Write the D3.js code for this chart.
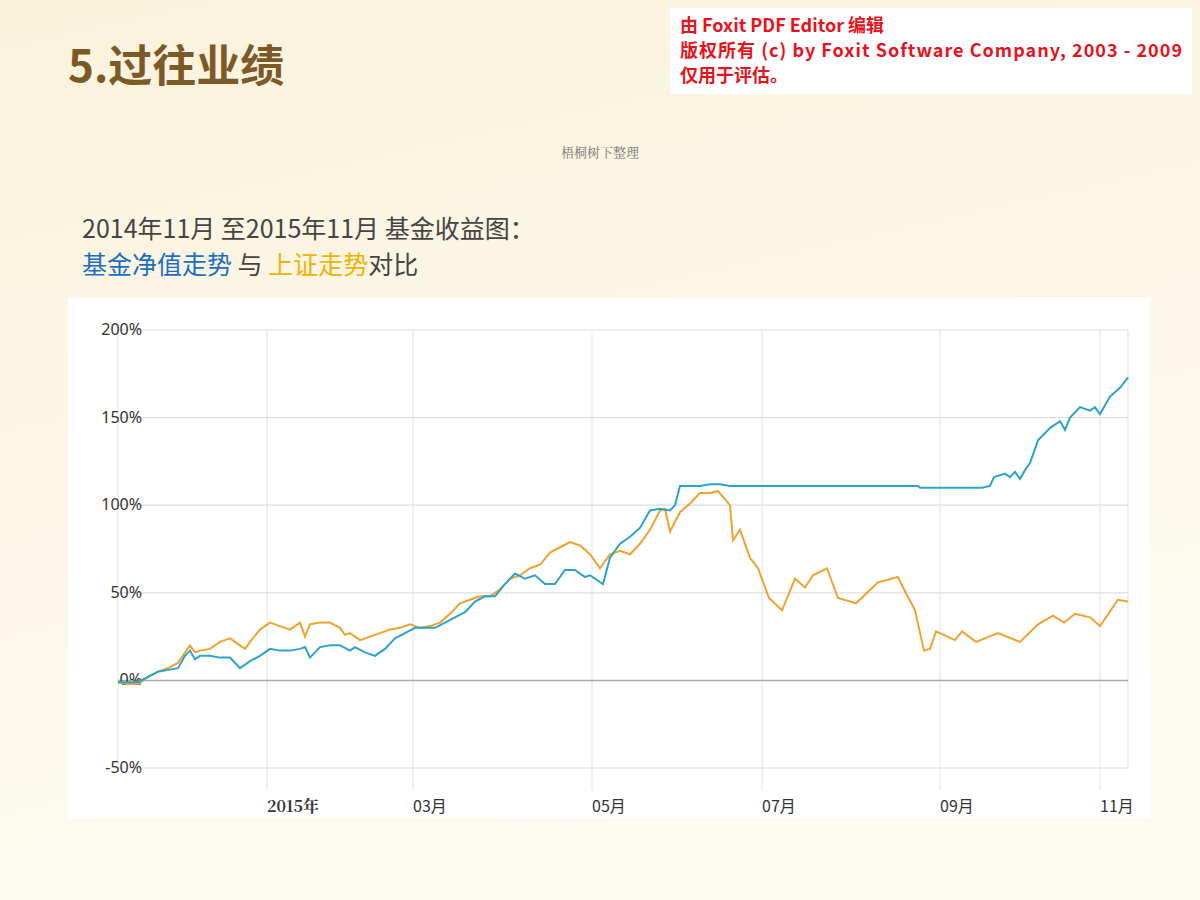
<!DOCTYPE html>
<html>
<head>
<meta charset="utf-8">
<script src="https://cdn.jsdelivr.net/npm/d3@7"></script>
<style>
  body { margin: 0; }
  svg { display: block; }
</style>
</head>
<body>
<svg id="chart" width="1200" height="900"></svg>
<script>
// [trading day index, % return]
const fund = [[0,-1],[2.5,-1],[5,-1],[7.5,2],[10,5],[12.5,6],[15,7],[16.75,14],[18,17],[19.25,12],[20.5,14],[23,14],[25.5,13],[28,13],[30.5,7],[33,11],[35.5,14],[38,18],[40.5,17],[43,17],[45.5,18],[46.75,19],[48,13],[50.5,19],[53,20],[55.5,20],[58,17],[59.25,19],[61.75,16],[64.25,14],[66.75,18],[69.25,24],[71.75,27],[74.25,30],[76.75,30],[79.25,30],[81.75,33],[84.25,36],[86.75,39],[89.25,45],[91.75,48],[94.25,48],[96.75,55],[99.25,61],[101.75,58],[104.25,60],[106.75,55],[109.25,55],[111.75,63],[114.25,63],[116.75,59],[118,60],[121.25,55],[123,70],[125.5,78],[128,82],[130.5,87],[133,97],[135.5,98],[138,97],[139.25,100],[140.5,111],[143,111],[145.5,111],[148,112],[150.5,112],[153,111],[165,111],[180,111],[190,111],[200,111],[200.5,110],[216,110],[218,111],[219,116],[221.75,118],[223,116],[224.25,119],[225.5,115],[226.75,120],[228,124],[230,137],[233,144],[235.5,148],[236.75,143],[238,150],[240.5,156],[243,154],[244.25,156],[245.5,152],[248,162],[250.5,167],[252.5,173]]
const index = [[0,-1],[2.5,-2],[5,-2],[7.5,2],[10,5],[12.5,7],[15,10],[16.75,16],[18,20],[19.25,16],[20.5,17],[23,18],[25.5,22],[28,24],[30.5,20],[31.75,18],[33,22],[35.5,29],[38,33],[40.5,31],[43,29],[45.5,33],[46.75,25],[48,32],[50.5,33],[53,33],[55.5,30],[56.75,26],[58,27],[60.5,23],[63,25],[65.5,27],[68,29],[70.5,30],[73,32],[75.5,30],[78,31],[80.5,33],[83,38],[85.5,44],[88,46],[90.5,48],[93,48],[95.5,52],[98,58],[100.5,60],[103,64],[105.5,66],[108,73],[110.5,76],[113,79],[115.5,77],[118,72],[120.5,64],[123,72],[125.5,74],[128,72],[130.5,78],[133,86],[135.5,97],[136.75,98],[138,85],[140.5,96],[143,101],[145.5,107],[148,107],[150,108],[153,100],[153.75,80],[155.5,86],[158,70],[160,64],[162.75,47],[166,40],[169.25,58],[171.75,53],[173.75,60],[177.25,64],[180,47],[184.5,44],[190,56],[195,59],[196.5,52],[199.25,40],[201.5,17],[203,18],[204.5,28],[209.25,23],[211,28],[214.5,22],[220,27],[225.5,22],[230,32],[233.75,37],[236.5,33],[239.25,38],[243,36],[245.5,31],[250,46],[252.5,45]]
const monthTicks = [[37.25,"2015年"],[73.75,"03月"],[118.5,"05月"],[161,"07月"],[205.5,"09月"],[245.5,"11月"]]
const yTicks = [200,150,100,50,0,-50]

const svg = d3.select("#chart")

// background
const defs = svg.append("defs")
const bg = defs.append("linearGradient").attr("id","bg").attr("x1",0).attr("y1",0).attr("x2",0.3).attr("y2",1)
bg.append("stop").attr("offset","0%").attr("stop-color","#fbf2dc")
bg.append("stop").attr("offset","100%").attr("stop-color","#fdfbf1")
svg.append("rect").attr("width",1200).attr("height",900).attr("fill","url(#bg)")

// header texts
svg.append("text").attr("x",68).attr("y",82).attr("font-size",44).attr("font-weight","bold")
  .attr("font-family","Noto Sans CJK SC").attr("fill","#7b5a28").text("5.过往业绩")

svg.append("rect").attr("x",670).attr("y",8).attr("width",522).attr("height",86).attr("fill","#fff")
const wm = svg.append("g").attr("font-family","Noto Sans CJK SC").attr("font-weight","bold")
  .attr("font-size",18).attr("fill","#e8121c")
wm.append("text").attr("x",680).attr("y",32).text("由 Foxit PDF Editor 编辑")
wm.append("text").attr("x",680).attr("y",57).attr("textLength",502).text("版权所有 (c) by Foxit Software Company, 2003 - 2009")
wm.append("text").attr("x",680).attr("y",82).text("仅用于评估。")

svg.append("text").attr("x",600).attr("y",157).attr("text-anchor","middle").attr("font-size",13)
  .attr("font-family","Noto Serif CJK SC, serif").attr("fill","#777").text("梧桐树下整理")

svg.append("text").attr("x",82).attr("y",238).attr("font-size",25).attr("font-family","Noto Sans CJK SC")
  .attr("fill","#444").text("2014年11月 至2015年11月 基金收益图：")
const sub = svg.append("text").attr("x",82).attr("y",274).attr("font-size",25).attr("font-family","Noto Sans CJK SC")
sub.append("tspan").attr("fill","#1b6fc2").text("基金净值走势")
sub.append("tspan").attr("fill","#444").text(" 与 ")
sub.append("tspan").attr("fill","#f2b200").text("上证走势")
sub.append("tspan").attr("fill","#444").text("对比")

// chart panel
svg.append("rect").attr("x",68).attr("y",298).attr("width",1082).attr("height",520).attr("fill","#fff")

const x = d3.scaleLinear().domain([0,252.5]).range([118,1128])
const y = d3.scaleLinear().domain([-50,200]).range([768,330])

const g = svg.append("g").attr("font-family","Noto Sans, sans-serif")
g.selectAll(".vg").data(monthTicks).join("line")
  .attr("x1",d=>x(d[0])).attr("x2",d=>x(d[0])).attr("y1",330).attr("y2",790)
  .attr("stroke","#e2e2e2")
g.append("line").attr("x1",1128).attr("x2",1128).attr("y1",330).attr("y2",768).attr("stroke","#ddd")
g.append("line").attr("x1",118).attr("x2",118).attr("y1",330).attr("y2",768).attr("stroke","#e2e2e2")
g.selectAll(".hg").data(yTicks).join("line")
  .attr("x1",118).attr("x2",1128).attr("y1",d=>y(d)).attr("y2",d=>y(d))
  .attr("stroke",d=>d===0?"#aaa":"#dedede").attr("stroke-width",d=>d===0?1.5:1.2)
g.selectAll(".yl").data(yTicks).join("text")
  .attr("x",142).attr("y",d=>y(d)+5).attr("text-anchor","end").attr("font-size",16).attr("fill","#333")
  .text(d=>d+"%")
g.selectAll(".xl").data(monthTicks).join("text")
  .attr("x",d=>x(d[0])).attr("y",812).attr("font-size",16).attr("fill","#333")
  .attr("font-weight",d=>d[1]==="2015年"?"bold":"normal")
  .attr("font-family",d=>d[1]==="2015年"?"Noto Serif CJK SC, serif":"Noto Sans CJK SC")
  .text(d=>d[1])

const line = d3.line().x(d=>x(d[0])).y(d=>y(d[1]))
g.append("path").datum(index).attr("d",line).attr("fill","none").attr("stroke","#f0a22e").attr("stroke-width",2)
g.append("path").datum(fund).attr("d",line).attr("fill","none").attr("stroke","#2ba4c9").attr("stroke-width",2)
</script>
</body>
</html>
